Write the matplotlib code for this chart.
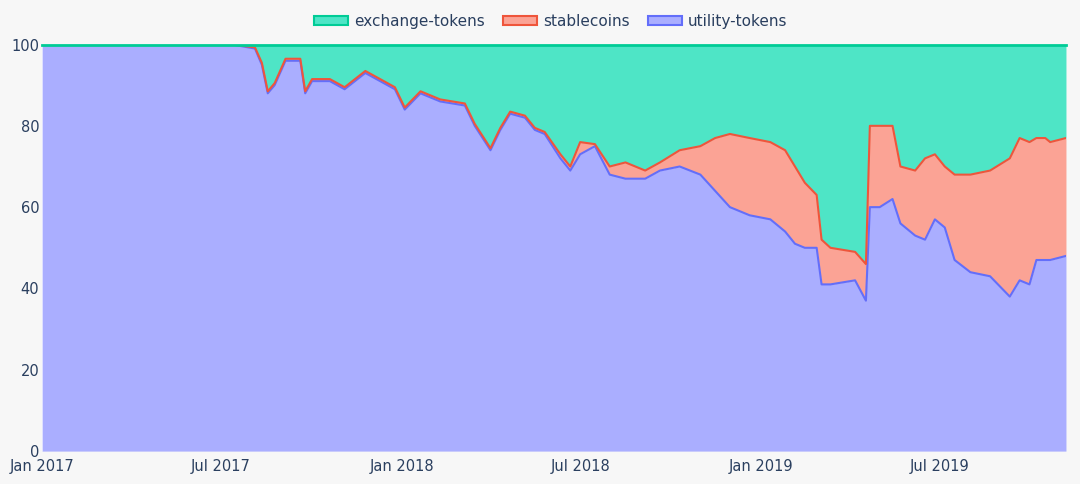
import matplotlib
matplotlib.use("Agg")
import matplotlib.pyplot as plt
import matplotlib.dates as mdates
import pandas as pd
import numpy as np

dates = ["2017-01-01","2017-07-13","2017-08-05","2017-08-12","2017-08-18","2017-08-25","2017-09-05",
"2017-09-20","2017-09-25","2017-10-02","2017-10-20","2017-11-04","2017-11-25","2017-12-10","2017-12-25",
"2018-01-04","2018-01-20","2018-02-09","2018-03-06","2018-03-16","2018-04-01","2018-04-11","2018-04-21",
"2018-05-06","2018-05-16","2018-05-26","2018-06-11","2018-06-21","2018-07-01","2018-07-16","2018-07-31",
"2018-08-16","2018-09-05","2018-09-20","2018-10-10","2018-10-31","2018-11-15","2018-11-30","2018-12-20",
"2019-01-10","2019-01-25","2019-02-04","2019-02-14","2019-02-26","2019-03-03","2019-03-12","2019-04-06",
"2019-04-17","2019-04-21","2019-05-01","2019-05-14","2019-05-22","2019-06-06","2019-06-16","2019-06-26",
"2019-07-06","2019-07-16","2019-08-01","2019-08-21","2019-09-10","2019-09-20","2019-09-30","2019-10-07",
"2019-10-16","2019-10-21","2019-11-06"]
utility = [100,100,99,95,88,90,96,96,88,91,91,89,93,91,89,84,88,86,85,80,74,79,83,82,79,78,72,69,73,75,68,
67,67,69,70,68,64,60,58,57,54,51,50,50,41,41,42,37,60,60,62,56,53,52,57,55,47,44,43,38,42,41,47,47,47,48]
top_red = [100,100,99.3,95.5,88.5,90.5,96.5,96.5,88.5,91.5,91.5,89.5,93.5,91.5,89.5,84.5,88.5,86.5,85.5,80.5,
74.5,79.5,83.5,82.5,79.5,78.5,73,70,76,75.5,70,71,69,71,74,75,77,78,77,76,74,70,66,63,52,50,49,46,80,80,80,
70,69,72,73,70,68,68,69,72,77,76,77,77,76,77]

x = pd.to_datetime(dates)
u = np.array(utility, float)
s = np.array(top_red, float) - u
e = 100 - u - s

fig = plt.figure(figsize=(10.8, 4.84), dpi=100)
fig.patch.set_facecolor("#f7f7f7")
ax = fig.add_axes([0.039, 0.068, 0.948, 0.84])
ax.set_facecolor("white")

c_e, c_s, c_u = "#00cc96", "#ef553b", "#636efa"
f_e, f_s, f_u = "#4ee5c6", "#fba395", "#aaaeff"
ax.fill_between(x, 0, u, color=f_u, lw=0)
ax.fill_between(x, u, u + s, color=f_s, lw=0)
ax.fill_between(x, u + s, 100, color=f_e, lw=0)
ax.plot(x, u, color=c_u, lw=1.5)
ax.plot(x, u + s, color=c_s, lw=1.5)
ax.plot(x, u + s + e, color=c_e, lw=2, clip_on=False)

ax.set_xlim(x[0], x[-1])
ax.set_ylim(0, 100)
ax.set_yticks([0, 20, 40, 60, 80, 100])
ax.xaxis.set_major_locator(mdates.MonthLocator(bymonth=[1, 7]))
ax.xaxis.set_major_formatter(mdates.DateFormatter("%b %Y"))
for sp in ax.spines.values():
    sp.set_visible(False)
ax.tick_params(length=0, labelsize=10.5, colors="#2a3f5f", pad=4)
ax.tick_params(axis="y", pad=2)
ax.tick_params(axis="x", pad=6)

from matplotlib.patches import Patch
handles = [Patch(facecolor=f_e, edgecolor=c_e, lw=1.5, label="exchange-tokens"),
           Patch(facecolor=f_s, edgecolor=c_s, lw=1.5, label="stablecoins"),
           Patch(facecolor=f_u, edgecolor=c_u, lw=1.5, label="utility-tokens")]
leg = fig.legend(handles=handles, loc="upper center", bbox_to_anchor=(0.51, 1.0), ncol=3, frameon=False,
                 fontsize=11, handlelength=2.2, handleheight=0.6, columnspacing=1.2, handletextpad=0.4)
for t in leg.get_texts():
    t.set_color("#2a3f5f")
fig.savefig("out.png", dpi=100, facecolor=fig.get_facecolor())
